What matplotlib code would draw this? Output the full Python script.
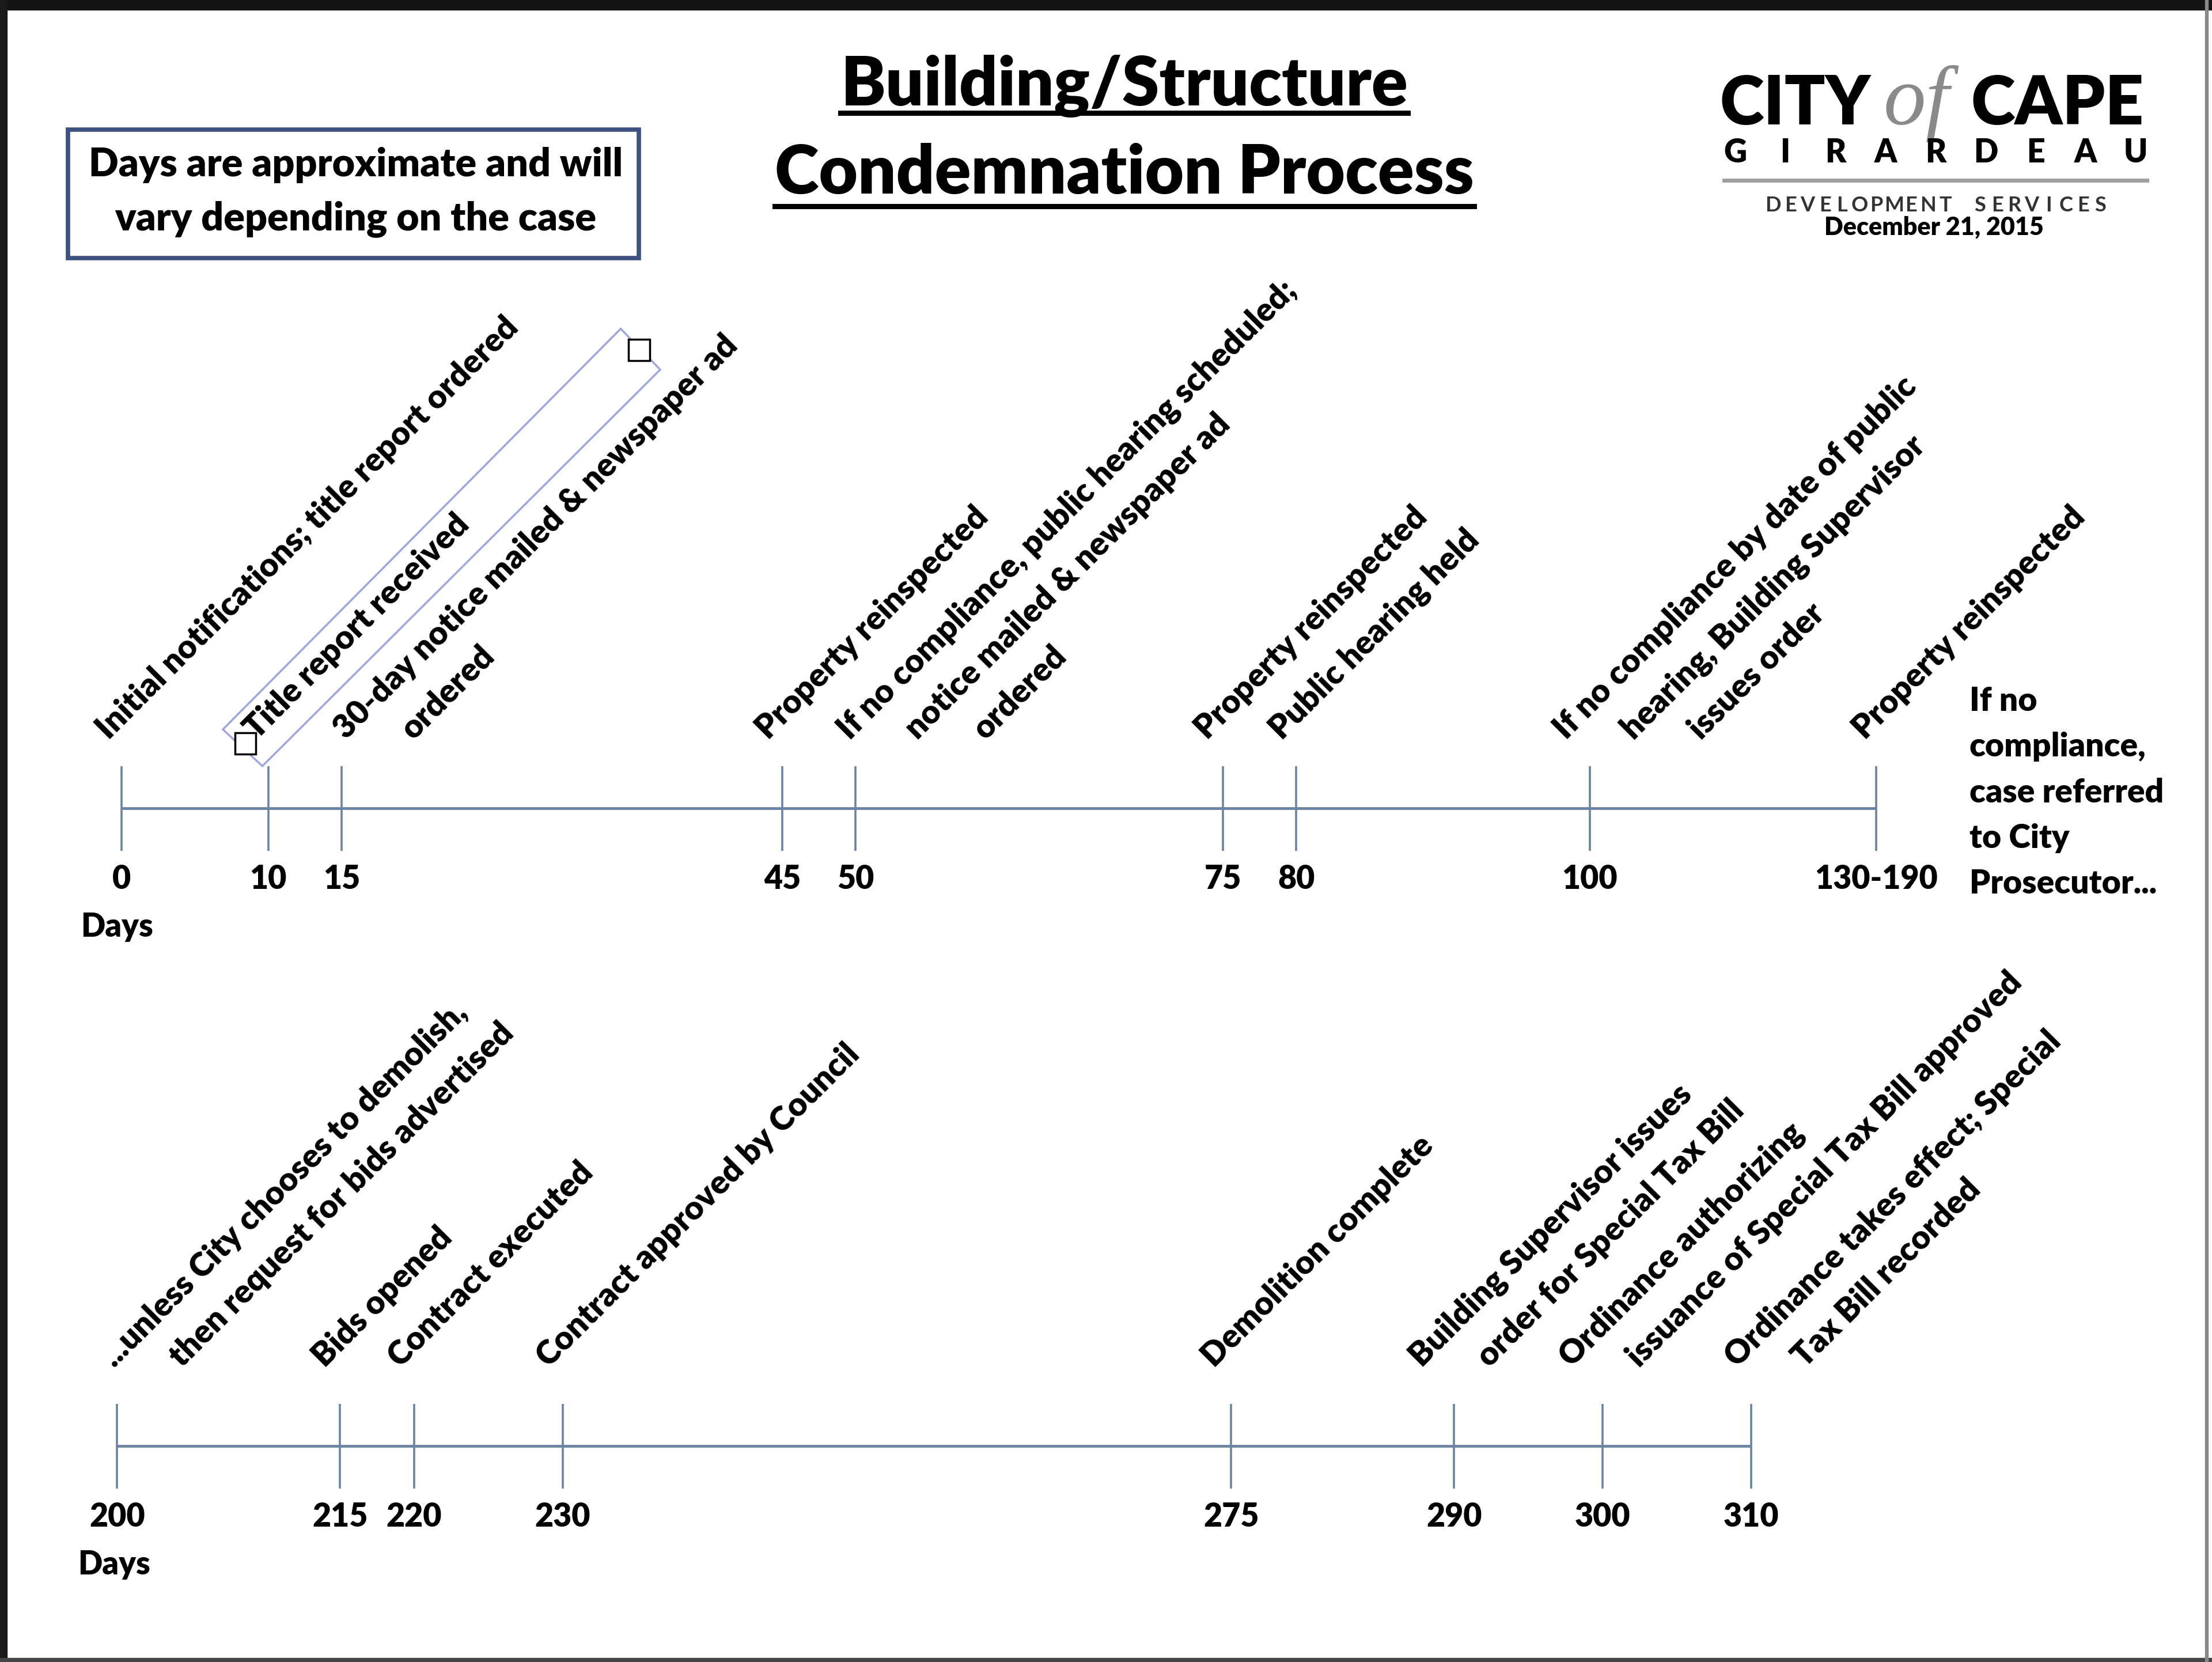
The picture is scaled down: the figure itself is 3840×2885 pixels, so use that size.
# Línea de tiempo del proceso de condena de edificios
import numpy as np
import matplotlib
matplotlib.use('Agg')
import matplotlib.pyplot as plt
from matplotlib import transforms
from matplotlib.patches import Rectangle, Polygon
from matplotlib.lines import Line2D

plt.rcParams['font.family'] = ['Lato', 'DejaVu Sans']
plt.rcParams['font.weight'] = 'heavy'

# Datos: primera fila
top_days = [0, 10, 15, 45, 50, 75, 80, 100, 130]
top_ticklabels = ["0", "10", "15", "45", "50", "75", "80", "100", "130-190"]
top_events = [
    ["Initial notifications; title report ordered"],
    ["Title report received"],
    ["30-day notice mailed & newspaper ad", "ordered"],
    ["Property reinspected"],
    ["If no compliance, public hearing scheduled;", "notice mailed & newspaper ad", "ordered"],
    ["Property reinspected"],
    ["Public hearing held"],
    ["If no compliance by date of public", "hearing, Building Supervisor", "issues order"],
    ["Property reinspected"],
]
# Datos: segunda fila
bottom_days = [200, 215, 220, 230, 275, 290, 300, 310]
bottom_ticklabels = ["200", "215", "220", "230", "275", "290", "300", "310"]
bottom_events = [
    ["...unless City chooses to demolish,", "then request for bids advertised"],
    ["Bids opened"],
    ["Contract executed"],
    ["Contract approved by Council"],
    ["Demolition complete"],
    ["Building Supervisor issues", "order for Special Tax Bill"],
    ["Ordinance authorizing", "issuance of Special Tax Bill approved"],
    ["Ordinance takes effect; Special", "Tax Bill recorded"],
]
end_note = ["If no", "compliance,", "case referred", "to City", "Prosecutor..."]
note_box = ["Days are approximate and will", "vary depending on the case"]
title_lines = ["Building/Structure", "Condemnation Process"]

# Rejilla de maquetación (coordenadas de la imagen reducida)
W, H = 1568, 1178
PX = 3840 / W * 0.72  # puntos por píxel de rejilla


def fx(x):
    return x / W


def fy(y):
    return 1 - y / H


fig = plt.figure(figsize=(38.4, 28.85), dpi=100)
fig.patch.set_facecolor('white')
LINE_C = '#6a82a3'

# escala comprimida para el rango 130-190
def fwd(d):
    d = np.asarray(d, dtype=float)
    return np.where(d <= 100, d, 100 + (d - 100) * 0.65)


def inv(u):
    u = np.asarray(u, dtype=float)
    return np.where(u <= 100, u, 100 + (u - 100) / 0.65)


def timeline(y_line, xlim, days, ticklabels, events, y_text, y_tick, nudges, scale=None):
    ax = fig.add_axes([0, fy(y_line + 30), 1, 60 / H])
    if scale is not None:
        ax.set_xscale('function', functions=scale)
    ax.set_xlim(*xlim)
    ax.set_ylim(-1, 1)
    ax.axis('off')
    ax.hlines(0, days[0], days[-1], color=LINE_C, lw=3.4)
    ax.vlines(days, -1, 1, color=LINE_C, lw=2.6)
    tr = transforms.blended_transform_factory(ax.transData, fig.transFigure)
    for d, lab in zip(days, ticklabels):
        ax.text(d, fy(y_tick), lab, transform=tr, ha='center', va='center', fontsize=40)
    for d, lines, nd in zip(days, events, nudges):
        for k, line in enumerate(lines):
            ax.annotate(line, xy=(d, fy(y_text)), xycoords=tr,
                        xytext=((nd + 48 * k) * PX, 0), textcoords='offset points',
                        rotation=45, rotation_mode='anchor', ha='left', va='baseline',
                        fontsize=41, annotation_clip=False)
    return ax


ax1 = timeline(573, (-86 / 10.41, float(inv((1568 - 86) / 10.41))), top_days, top_ticklabels,
               top_events, 525, 623, [-9, -8, 3, -10, -4, -11, -10, -17, -8],
               scale=(fwd, inv))
ax2 = timeline(1025, (200 - 83 / 10.53, 200 + (1568 - 83) / 10.53), bottom_days,
               bottom_ticklabels, bottom_events, 970, 1075, [-2, -11, -10, -10, -12, -23, -22, -10])

# "Days"
fig.text(fx(83), fy(657), "Days", ha='center', va='center', fontsize=40)
fig.text(fx(81), fy(1109), "Days", ha='center', va='center', fontsize=40)

# Nota final
for i, line in enumerate(end_note):
    fig.text(fx(1396), fy(504 + 32.3 * i), line, ha='left', va='baseline', fontsize=41)

# Recuadro de aviso
fig.add_artist(Rectangle((fx(48), fy(183)), fx(453) - fx(48), fy(92) - fy(183),
                         transform=fig.transFigure, fill=False, ec='#3e5281', lw=5.5))
fig.text(fx(252), fy(117), note_box[0], ha='center', va='center', fontsize=49)
fig.text(fx(252), fy(155), note_box[1], ha='center', va='center', fontsize=49)

# Título subrayado
t1 = fig.text(fx(797), fy(61), title_lines[0], ha='center', va='center', fontsize=84)
t2 = fig.text(fx(797), fy(123), title_lines[1], ha='center', va='center', fontsize=84)
fig.canvas.draw()
rend = fig.canvas.get_renderer()
for t, yu in [(t1, 80), (t2, 146)]:
    bb = t.get_window_extent(rend).transformed(fig.transFigure.inverted())
    fig.add_artist(Line2D([bb.x0, bb.x1], [fy(yu), fy(yu)], transform=fig.transFigure,
                          color='black', lw=6.5))

# Logo
fig.text(fx(1219), fy(88), "CITY", ha='left', va='baseline', fontsize=84, weight='heavy')
fig.text(fx(1335), fy(88), "of", ha='left', va='baseline', fontsize=106, style='italic',
         weight='normal', color='#8a8a8a', family=['Liberation Serif'])
fig.text(fx(1397), fy(88), "CAPE", ha='left', va='baseline', fontsize=84, weight='heavy')
for x, ch in zip(np.linspace(1230, 1514, 9), "GIRARDEAU"):
    fig.text(fx(x), fy(115), ch, ha='center', va='baseline', fontsize=40, weight='heavy')
fig.add_artist(Line2D([fx(1222), fx(1522)], [fy(128), fy(128)], transform=fig.transFigure,
                      color='#a0a0a0', lw=5))
for x, ch in zip(np.linspace(1257, 1489, 20), "DEVELOPMENT SERVICES"):
    fig.text(fx(x), fy(150), ch, ha='center', va='baseline', fontsize=26, weight='bold',
             color='#333333')
fig.text(fx(1371), fy(161), "December 21, 2015", ha='center', va='center', fontsize=31)

# Recuadro rotado seleccionado y tiradores
fig.add_artist(Polygon([(fx(158), fy(517)), (fx(440), fy(233)), (fx(468), fy(262)),
                        (fx(186), fy(543))], closed=True, fill=False, ec='#9ea6e0', lw=2.5,
                       transform=fig.transFigure))
for cx, cy in [(174, 527), (453, 248)]:
    fig.add_artist(Rectangle((fx(cx - 7.5), fy(cy + 7.5)), 15 / W, 15 / H, transform=fig.transFigure,
                             fc='white', ec='black', lw=2.5))

# Bordes de la captura
fig.add_artist(Rectangle((0, fy(7)), 1, 7 / H, transform=fig.transFigure, color='#141414'))
fig.add_artist(Rectangle((0, 0), 5 / W, 1, transform=fig.transFigure, color='#1a1a1a'))
fig.add_artist(Rectangle((0, 0), 1, 3 / H, transform=fig.transFigure, color='#444444'))
fig.add_artist(Rectangle((fx(1563), 0), 2 / W, 1, transform=fig.transFigure, color='#888888'))

fig.savefig('out.png', dpi=100)
